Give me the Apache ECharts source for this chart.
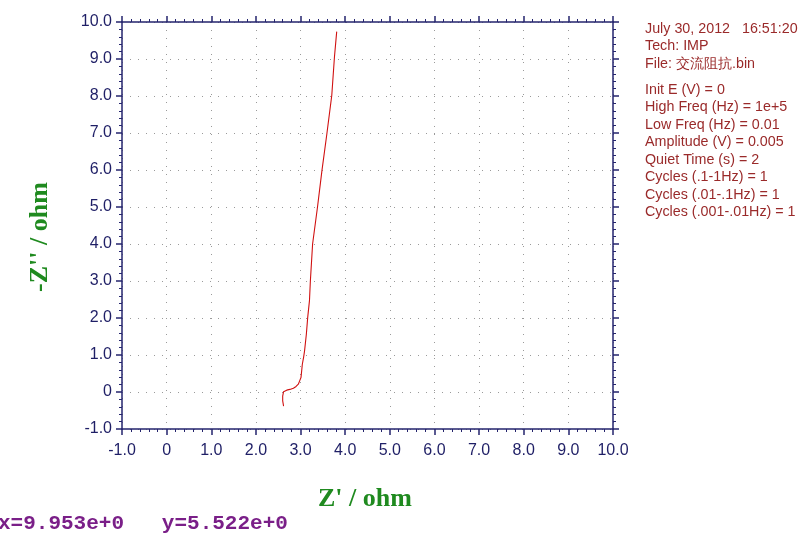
<!DOCTYPE html>
<html>
<head>
<meta charset="utf-8">
<script src="https://cdn.jsdelivr.net/npm/echarts@6/dist/echarts.min.js"></script>
<style>html,body{margin:0;padding:0;background:#fff;}#c{width:800px;height:535px;}</style>
</head>
<body>
<div id="c"></div>
<script>
// Nyquist data (Z' , -Z''), high freq -> low freq
const zReal = [2.62, 2.60, 2.60, 2.62, 2.69, 2.76, 2.84, 2.90, 2.95, 2.98, 3.01, 3.04, 3.07, 3.09, 3.13, 3.16, 3.20, 3.22, 3.27, 3.38, 3.48, 3.59, 3.70, 3.76, 3.81];
const zImag = [-0.38, -0.24, -0.11, 0.01, 0.05, 0.07, 0.10, 0.15, 0.21, 0.30, 0.39, 0.75, 0.95, 1.11, 1.56, 2.01, 2.47, 3.00, 4.00, 5.00, 5.99, 6.98, 8.02, 9.06, 9.74];
const axisMin = -1, axisMax = 10, axisStep = 1;
const infoLines = ['July 30, 2012   16:51:20', 'Tech: IMP', 'File: 交流阻抗.bin', '', 'Init E (V) = 0', 'High Freq (Hz) = 1e+5', 'Low Freq (Hz) = 0.01', 'Amplitude (V) = 0.005', 'Quiet Time (s) = 2', 'Cycles (.1-1Hz) = 1', 'Cycles (.01-.1Hz) = 1', 'Cycles (.001-.01Hz) = 1'];
const xName = "Z' / ohm";
const yName = "-Z'' / ohm";
const cursorText = 'x=9.953e+0   y=5.522e+0';

const axisColor = '#25256e';
const labelColor = '#1f1f66';
const fmt = v => (v === 0 ? '0' : v.toFixed(1));

function mkAxis(pos, showLabel, isX) {
  return {
    type: 'value', position: pos, min: axisMin, max: axisMax, interval: axisStep,
    axisLine: { show: true, onZero: false, lineStyle: { color: axisColor, width: 1.5 } },
    axisTick: { show: true, length: 6, lineStyle: { color: axisColor, width: 1.5 } },
    minorTick: { show: true, splitNumber: 5, length: 3, lineStyle: { color: axisColor, width: 1 } },
    axisLabel: showLabel ? { show: true, color: labelColor, fontFamily: 'Liberation Sans, Arial', fontSize: 16, margin: isX ? 14 : 10, formatter: fmt } : { show: false },
    splitLine: showLabel ? { show: true, lineStyle: { color: '#9a9a9a', width: 1, type: [1, 7] } } : { show: false },
    minorSplitLine: { show: false }
  };
}

const chart = echarts.init(document.getElementById('c'), null, { renderer: 'canvas' });
const data = zReal.map((x, i) => [x, zImag[i]]);
const graphics = [
  { type: 'text', left: 318, top: 486, style: { text: xName, font: 'bold 26px "Liberation Serif", "Times New Roman", serif', fill: '#1f8a1f' } },
  { type: 'text', x: 27, y: 292, rotation: Math.PI / 2, style: { text: yName, font: 'bold 26px "Liberation Serif", "Times New Roman", serif', fill: '#1f8a1f' } },
  { type: 'text', left: -2, top: 513, style: { text: cursorText, font: 'bold 21px "Liberation Mono", "Courier New", monospace', fill: '#7a1f88' } }
];
infoLines.forEach((t, i) => {
  if (!t) return;
  const y = i < 3 ? 22 + i * 17.5 : 83 + (i - 4) * 17.5;
  graphics.push({ type: 'text', left: 645, top: y, style: { text: t, font: '14.3px "Liberation Sans", Arial, sans-serif', fill: '#9a2a2a' } });
});

chart.setOption({
  animation: false,
  backgroundColor: '#ffffff',
  grid: { left: 122, right: 187, top: 22, bottom: 106, containLabel: false },
  xAxis: [mkAxis('bottom', true, true), mkAxis('top', false, true)],
  yAxis: [mkAxis('left', true, false), mkAxis('right', false, false)],
  series: [{
    type: 'line', data: data, showSymbol: false, symbol: 'none',
    lineStyle: { color: '#d01010', width: 1.1 }, smooth: false
  }],
  graphic: graphics
});
</script>
</body>
</html>
